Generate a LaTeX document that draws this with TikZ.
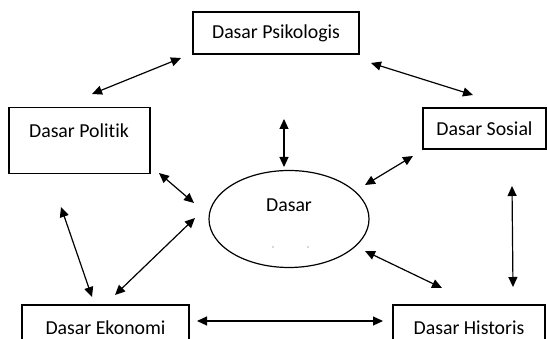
\documentclass[tikz,border=0pt]{standalone}
\usepackage{fontspec}
\setmainfont{Carlito}[Ligatures={NoCommon,NoContextual}]
\usetikzlibrary{arrows.meta,shapes.geometric}
\begin{document}
\begin{tikzpicture}[x=1pt,y=-1pt,
  box/.style={draw, line width=1.3pt, inner sep=0pt},
  lbl/.style={font=\fontsize{19.8}{23}\selectfont, inner sep=0pt},
  link/.style={line width=1.2pt, {Triangle[length=10pt,width=9pt]}-{Triangle[length=10pt,width=9pt]}}]
\clip (0,0) rectangle (547,339);
\fill[white] (0,0) rectangle (547,339);
% boxes
\node[box, lbl, minimum width=166pt, minimum height=42pt] (psi) at (276,33) {Dasar Psikologis};
\node[box, minimum width=141pt, minimum height=66pt] (pol) at (79.5,140.5) {};
\node[lbl] (poltext) at (79,131) {Dasar Politik};
\node[box, lbl, minimum width=123pt, minimum height=41pt] (sos) at (484.5,128.5) {Dasar Sosial};
\node[box, minimum width=167pt, minimum height=45pt] (eko) at (105.5,327.5) {};
\node[lbl] (ekotext) at (105.5,328) {Dasar Ekonomi};
\node[box, minimum width=152pt, minimum height=45pt] (his) at (469,327.5) {};
\node[lbl] (histext) at (469,328) {Dasar Historis};
% ellipse
\node[ellipse, draw, line width=1.2pt, minimum width=160pt, minimum height=97pt] (das) at (289,219) {};
\node[lbl] (dastext) at (289,205) {Dasar};
\node[circle, fill=gray!60, inner sep=0.7pt] (dot1) at (273,247) {};
\node[circle, fill=gray!60, inner sep=0.7pt] (dot2) at (308,247) {};
% arrow ends
\coordinate (a1) at (181,58);  \coordinate (b1) at (92,94);
\coordinate (a2) at (371,63);  \coordinate (b2) at (473,95);
\coordinate (a3) at (284,119); \coordinate (b3) at (284,167);
\coordinate (a4) at (413,156); \coordinate (b4) at (365,185);
\coordinate (a5) at (159,173); \coordinate (b5) at (194,203);
\coordinate (a6) at (195,218); \coordinate (b6) at (115,295);
\coordinate (a7) at (61,207);  \coordinate (b7) at (92,297);
\coordinate (a8) at (365,251); \coordinate (b8) at (442,288);
\coordinate (a9) at (512,186); \coordinate (b9) at (513,287);
\coordinate (a10) at (197,321); \coordinate (b10) at (383,321);
\foreach \i in {1,...,10} {\draw[link] (a\i) -- (b\i);}
\end{tikzpicture}
\end{document}
